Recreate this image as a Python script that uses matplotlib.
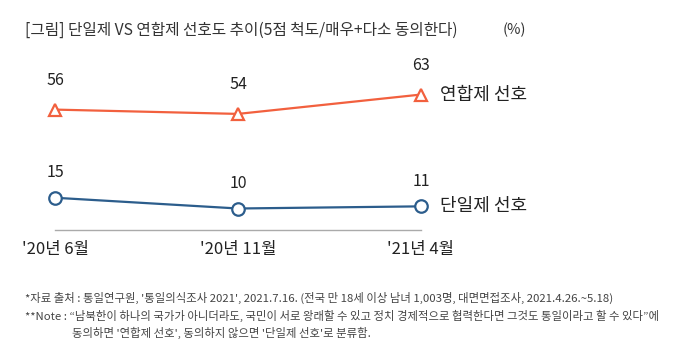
import numpy as np
import matplotlib
matplotlib.use('Agg')
import matplotlib.pyplot as plt

plt.rcParams['font.family'] = ['Noto Sans CJK KR', 'DejaVu Sans']

periods = ["'20년 6월", "'20년 11월", "'21년 4월"]
union = [56, 54, 63]     # 연합제 선호
single = [15, 10, 11]    # 단일제 선호
series_names = ['연합제 선호', '단일제 선호']

c_union = '#F2603E'
c_single = '#2C5D8C'

fig = plt.figure(figsize=(6.78, 3.54), dpi=100)
# axes: x 55..421 px, y value 0 at px 230, ~2.15 px per unit
W, H = 678, 354
ax = fig.add_axes([55 / W, (H - 230) / H, (421 - 55) / W, (2.15 * 75) / H])
x = np.arange(len(periods))
ax.set_xlim(0, 2)
ax.set_ylim(0, 75)

ax.plot(x, union, color=c_union, lw=1.6, marker='^', ms=9, mfc='white',
        mec=c_union, mew=1.6, clip_on=False, zorder=3)
ax.plot(x, single, color=c_single, lw=1.6, marker='o', ms=9, mfc='white',
        mec=c_single, mew=1.6, clip_on=False, zorder=3)

for xi, v in zip(x, union):
    ax.annotate(str(v), (xi, v), xytext=(0, 15), textcoords='offset points',
                ha='center', va='bottom', fontsize=11.5, color='#222222')
for xi, v in zip(x, single):
    ax.annotate(str(v), (xi, v), xytext=(0, 12), textcoords='offset points',
                ha='center', va='bottom', fontsize=11.5, color='#222222')

ax.annotate(series_names[0], (2, union[-1]), xytext=(14, 0), textcoords='offset points',
            ha='left', va='center', fontsize=13, color='#222222')
ax.annotate(series_names[1], (2, single[-1]), xytext=(14, 0), textcoords='offset points',
            ha='left', va='center', fontsize=13, color='#222222')

for s in ['top', 'right', 'left']:
    ax.spines[s].set_visible(False)
ax.spines['bottom'].set_color('#AAAAAA')
ax.spines['bottom'].set_linewidth(1)
ax.set_yticks([])
ax.set_xticks(x)
ax.set_xticklabels(periods, fontsize=12, color='#222222')
ax.tick_params(axis='x', length=0, pad=8)

fig.text(25 / W, 1 - 30 / H, '[그림] 단일제 VS 연합제 선호도 추이(5점 척도/매우+다소 동의한다)',
         fontsize=11.3, color='#333333', va='center', ha='left')
fig.text(503 / W, 1 - 30 / H, '(%)', fontsize=10.5, color='#333333', va='center', ha='left')

notes = [
    "*자료 출처 : 통일연구원, '통일의식조사 2021', 2021.7.16. (전국 만 18세 이상 남녀 1,003명, 대면면접조사, 2021.4.26.~5.18)",
    "**Note : \u201c남북한이 하나의 국가가 아니더라도, 국민이 서로 왕래할 수 있고 정치 경제적으로 협력한다면 그것도 통일이라고 할 수 있다\u201d에",
    "동의하면 '연합제 선호', 동의하지 않으면 '단일제 선호'로 분류함.",
]
fig.text(25 / W, 1 - 298 / H, notes[0], fontsize=8.2, color='#444444', va='center')
fig.text(25 / W, 1 - 316 / H, notes[1], fontsize=8.2, color='#444444', va='center')
fig.text(72 / W, 1 - 333 / H, notes[2], fontsize=8.2, color='#444444', va='center')

fig.savefig('out.png', dpi=100)
